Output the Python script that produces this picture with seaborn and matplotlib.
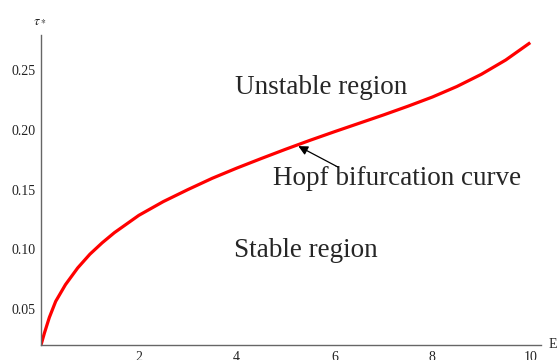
import numpy as np
import pandas as pd
import matplotlib
matplotlib.use("Agg")
import matplotlib.pyplot as plt
import seaborn as sns
from matplotlib.ticker import MultipleLocator

# data
E_vals = [0, 0.07, 0.17, 0.3, 0.5, 0.75, 1.0, 1.25, 1.5, 2.0, 2.5, 3.0, 3.5,
          4.0, 4.5, 5.0, 5.5, 6.0, 6.5, 7.0, 7.5, 8.0, 8.5, 9.0, 9.5, 10.0]
tau_vals = [0.020, 0.030, 0.043, 0.0565, 0.0705, 0.0845, 0.096, 0.1055, 0.114,
            0.1285, 0.140, 0.150, 0.1595, 0.168, 0.176, 0.1838, 0.1913, 0.1985,
            0.2055, 0.2125, 0.2198, 0.2275, 0.2363, 0.2465, 0.2585, 0.273]
x_ticks = [2, 4, 6, 8, 10]
y_ticks = [0.05, 0.10, 0.15, 0.20, 0.25]
y_tick_labels = ["0.05", "0.10", "0.15", "0.20", "0.25"]

df = pd.DataFrame({"E": E_vals, "tau": tau_vals})

sns.set_style("white")
plt.rcParams["font.family"] = ["Liberation Serif", "DejaVu Serif"]
plt.rcParams["mathtext.fontset"] = "stix"

fig = plt.figure(figsize=(5.6, 3.6), dpi=100)
ax = fig.add_axes([41/560, 15/360, 500/560, 310/360])

sns.lineplot(data=df, x="E", y="tau", ax=ax, color="#ff0000", linewidth=2.3,
             estimator=None, sort=True)
for ln in ax.get_lines():
    ln.set_solid_joinstyle("round")
    ln.set_solid_capstyle("butt")

ax.set_xlim(0, 10.22)
ax.set_ylim(0.02, 0.2794)
ax.set_xlabel("")
ax.set_ylabel("")

ax.set_xticks(x_ticks)
ax.set_xticklabels([str(t) for t in x_ticks])
ax.set_yticks(y_ticks)
ax.set_yticklabels(y_tick_labels)
ax.xaxis.set_minor_locator(MultipleLocator(0.5))
ax.yaxis.set_minor_locator(MultipleLocator(0.01))

axis_col = "#666666"
for s in ["top", "right"]:
    ax.spines[s].set_visible(False)
for s in ["left", "bottom"]:
    ax.spines[s].set_color(axis_col)
    ax.spines[s].set_linewidth(1.0)

ax.tick_params(which="major", direction="in", length=5, width=0.9, color=axis_col,
               labelsize=10, labelcolor="#222222", pad=4)
ax.tick_params(which="minor", direction="in", length=3, width=0.8, color=axis_col)

ax.text(5.716, 0.2297, "Unstable region", fontsize=19.5, ha="center", va="baseline")
ax.text(5.42, 0.0936, "Stable region", fontsize=19.5, ha="center", va="baseline")
ax.text(7.28, 0.1538, "Hopf bifurcation curve", fontsize=19.5, ha="center", va="baseline")

ax.annotate("", xy=(5.26, 0.1864), xytext=(6.07, 0.1689),
            arrowprops=dict(arrowstyle="-|>", color="black", lw=0.9,
                            mutation_scale=14, shrinkA=0, shrinkB=0))

ax.text(-0.002, 1.048, r"$\tau_*$", transform=ax.transAxes, fontsize=10,
        ha="center", va="center")
ax.text(1.024, 0.0, "E", transform=ax.transAxes, fontsize=10,
        ha="center", va="center")

fig.savefig("out.png", dpi=100)
